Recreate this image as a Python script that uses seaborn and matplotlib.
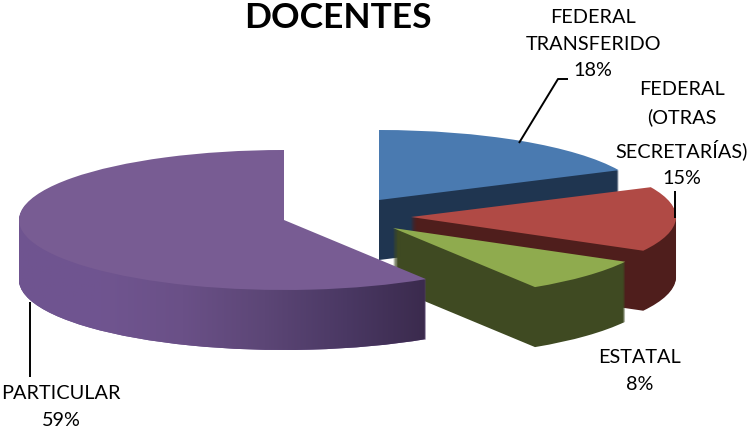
import numpy as np
import seaborn as sns
import matplotlib
matplotlib.use("Agg")
import matplotlib.pyplot as plt
from matplotlib.patches import PathPatch
from matplotlib.path import Path

# datos
categorias = ["FEDERAL\nTRANSFERIDO", "FEDERAL\n(OTRAS\nSECRETARÍAS)", "ESTATAL", "PARTICULAR"]
valores = [18, 15, 8, 59]
titulo = "DOCENTES"

color_tapa = ["#4A7AB0", "#B04A45", "#8FAB4E", "#785C93"]
color_pared = ["#1F3550", "#4F1E1C", "#3F4A22", "#6F5490"]
degradado = ["#6F5490", "#705590", "#6A5087", "#5C4676", "#4A3863", "#3A2A4C"]

# centro de cada rebanada en pixeles de la imagen
centros = [(379, 200), (411, 217), (393, 228), (284, 220)]
pos_etiqueta = [(593, 44), (682, 134), (640, 371), (61, 407)]
lineas_guia = [[(519, 143), (558, 79), (568, 79)], [(675, 191), (675, 218)], [(30, 302), (30, 377)]]
RX, RY, PROF = 265, 70, 60


def px(x, y):
    return x / RX, -y / RY


sns.set_theme(style="white")
plt.rcParams["font.family"] = ["Lato", "DejaVu Sans"]

fig, ax = plt.subplots(figsize=(7.5, 4.32), dpi=100)
fig.subplots_adjust(0, 0, 1, 1)

inicio = 90
for i, v in enumerate(valores):
    paredes = []
    for d in range(PROF, -1, -1):
        c = px(centros[i][0], centros[i][1] + d)
        col = color_tapa[i] if d == 0 else color_pared[i]
        w, _ = ax.pie([v, 100 - v], startangle=inicio, counterclock=False, center=c,
                      colors=[col, "none"], radius=1)
        w[0].set_zorder(10 * i + (2 if d == 0 else 1))
        w[0].set_linewidth(0)
        w[1].set_visible(False)
        if d > 0:
            paredes.append(w[0].get_path())
    if i == 3:
        # la pared morada lleva degradado de izquierda a derecha
        cmap = sns.blend_palette(degradado, as_cmap=True)
        x0, _ = px(18, 0)
        x1, _ = px(430, 0)
        _, y0 = px(0, 140)
        _, y1 = px(0, 360)
        im = ax.imshow(np.linspace(0, 1, 256).reshape(1, -1), cmap=cmap, aspect="auto",
                       extent=(x0, x1, y1, y0), zorder=10 * i + 1.5)
        im.set_clip_path(PathPatch(Path.make_compound_path(*paredes), transform=ax.transData))
    inicio -= v * 3.6

for linea in lineas_guia:
    xs, ys = zip(*[px(*p) for p in linea])
    ax.plot(xs, ys, color="black", lw=1.4, zorder=60, solid_capstyle="butt")

for cat, v, p in zip(categorias, valores, pos_etiqueta):
    x, y = px(*p)
    ax.text(x, y, f"{cat}\n{v}%", ha="center", va="center", fontsize=14.3, color="black",
            linespacing=1.7, zorder=70)

x, y = px(338, 18)
ax.text(x, y, titulo, ha="center", va="center", fontsize=25.5, fontweight="bold", color="black", zorder=70)

ax.set_aspect("auto")
ax.set_xlim(0, 750 / RX)
ax.set_ylim(-432 / RY, 0)
ax.axis("off")
fig.savefig("out.png", dpi=100, facecolor="white")
